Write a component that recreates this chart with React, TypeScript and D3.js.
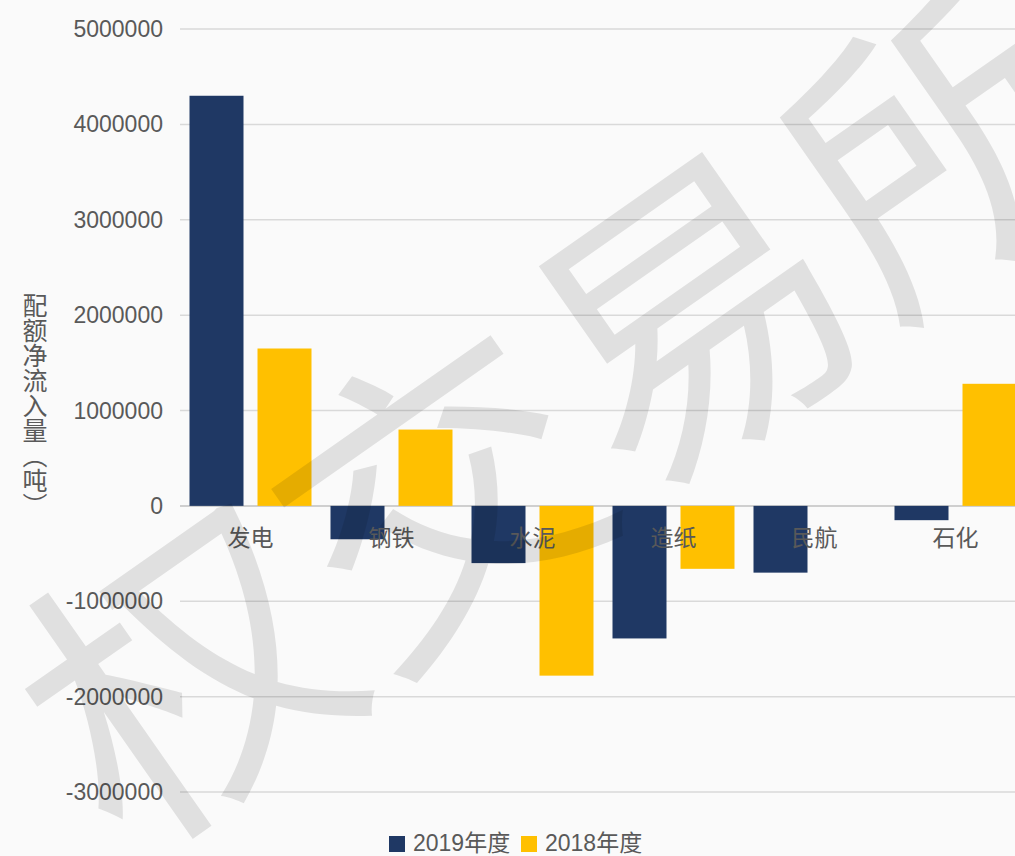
import React from "react";
import * as d3 from "d3";

const categories = ["发电", "钢铁", "水泥", "造纸", "民航", "石化"];
const series2019 = [4300000, -350000, -600000, -1390000, -700000, -150000];
const series2018 = [1650000, 800000, -1780000, -660000, 0, 1280000];
const seriesNames = ["2019年度", "2018年度"];
const seriesColors = ["#1f3864", "#ffc000"];
const yTicks = [-3000000, -2000000, -1000000, 0, 1000000, 2000000, 3000000, 4000000, 5000000];
const yTitle = "配额净流入量（吨）";
const watermark = "权交易所";

const W = 1015;
const H = 856;
const FONT = "'Liberation Sans', Arial, 'Noto Sans CJK SC', sans-serif";

export default function App() {
  const x0 = d3.scaleBand<string>().domain(categories).range([180, 1026]).padding(0);
  const y = d3.scaleLinear().domain([-3000000, 5000000]).range([792, 29]);
  const barW = 54;
  const gap = 14;
  const groupW = barW * 2 + gap;
  const off = (x0.bandwidth() - groupW) / 2;
  const all = [series2019, series2018];

  return (
    <svg width={W} height={H} style={{ position: "absolute", left: 0, top: 0, background: "#fafafa" }} fontFamily={FONT}>
      <rect x={0} y={0} width={W} height={H} fill="#fafafa" />
      {yTicks.map((t) => (
        <g key={t}>
          <line x1={180} x2={W} y1={y(t)} y2={y(t)} stroke={t === 0 ? "#cfcfcf" : "#d9d9d9"} strokeWidth={t === 0 ? 2 : 1.5} />
          <text x={163} y={y(t)} textAnchor="end" dominantBaseline="central" fontSize={23} fill="#595959">
            {t}
          </text>
        </g>
      ))}
      {all.map((vals, si) =>
        vals.map((v, i) => {
          if (v === 0) return null;
          const bx = (x0(categories[i]) as number) + off + si * (barW + gap);
          return (
            <rect
              key={`${si}-${i}`}
              x={bx}
              width={barW}
              y={Math.min(y(v), y(0))}
              height={Math.abs(y(v) - y(0))}
              fill={seriesColors[si]}
            />
          );
        })
      )}
      {categories.map((c) => (
        <text
          key={c}
          x={(x0(c) as number) + x0.bandwidth() / 2}
          y={538}
          textAnchor="middle"
          dominantBaseline="central"
          fontSize={23}
          fill="#595959"
        >
          {c}
        </text>
      ))}
      <text
        x={35}
        y={405}
        fontSize={25}
        fill="#595959"
        textAnchor="middle"
        fontFamily="'Noto Sans CJK SC', sans-serif"
        style={{ writingMode: "vertical-rl" as any }}
      >
        {yTitle}
      </text>
      {seriesNames.map((n, i) => {
        const lx = [389, 521][i];
        return (
          <g key={n}>
            <rect x={lx} y={836} width={16} height={16} fill={seriesColors[i]} />
            <text x={lx + 24} y={843} dominantBaseline="central" fontSize={23} fill="#595959">
              {n}
            </text>
          </g>
        );
      })}
      <text
        transform="translate(555,390) rotate(-35)"
        textAnchor="middle"
        dominantBaseline="central"
        fontSize={310}
        fontWeight={400}
        fontFamily="'Noto Sans CJK SC', sans-serif"
        fill="#000"
        fillOpacity={0.1}
      >
        {watermark}
      </text>
    </svg>
  );
}
